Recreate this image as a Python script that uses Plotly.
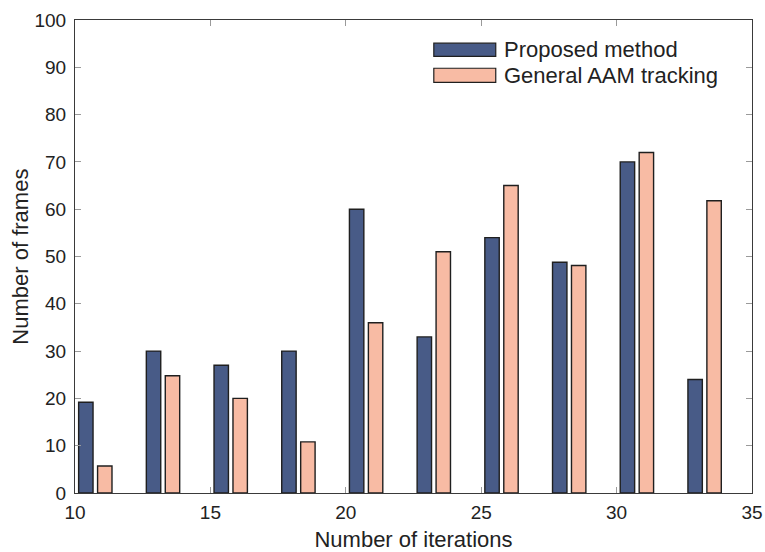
import plotly.graph_objects as go

# Group centres on the iteration axis
iterations = [10.75, 13.25, 15.75, 18.25, 20.75, 23.25, 25.75, 28.25, 30.75, 33.25]

# Number of frames per iteration bucket
proposed = [19.2, 30, 27, 30, 60, 33, 54, 48.8, 70, 24]
general_aam = [5.7, 24.8, 20, 10.8, 36, 51, 65, 48.1, 72, 61.8]

series_names = ["Proposed method", "General AAM tracking"]
series_colors = ["#485b87", "#f8bba4"]

x_ticks = [10, 15, 20, 25, 30, 35]
y_ticks = list(range(0, 101, 10))

FONT = "Liberation Sans, Arial, Helvetica, sans-serif"
EDGE = "#1f1f1f"
TEXT = "#222222"

fig = go.Figure()
for name, vals, col in zip(series_names, [proposed, general_aam], series_colors):
    fig.add_trace(go.Bar(
        x=iterations, y=vals, name=name,
        marker=dict(color=col, line=dict(color=EDGE, width=1.4)),
        showlegend=False,
    ))

axis_common = dict(
    showline=True, linecolor="#3a3a3a", linewidth=1.2, mirror="ticks",
    ticks="inside", ticklen=6, tickcolor="#9a9a9a", tickwidth=1,
    showgrid=False, zeroline=False, automargin=False,
    tickfont=dict(family=FONT, size=19, color=TEXT),
    title_font=dict(family=FONT, size=22, color=TEXT),
)

fig.update_layout(
    width=765, height=552,
    margin=dict(l=75, r=13, t=20, b=59),
    paper_bgcolor="white", plot_bgcolor="white",
    barmode="group", bargap=0.44, bargroupgap=0.24,
    xaxis=dict(range=[10, 35], tickvals=x_ticks, title=dict(text="Number of iterations"),
               ticklabelstandoff=2, **axis_common),
    yaxis=dict(range=[0, 100], tickvals=y_ticks, ticklabelstandoff=4, **axis_common),
)

# Vertical axis title
fig.add_annotation(xref="paper", yref="paper", x=-0.081, y=0.5, textangle=-90,
                   text="Number of frames", showarrow=False,
                   xanchor="center", yanchor="middle",
                   font=dict(family=FONT, size=22, color=TEXT))

# Legend drawn as wide swatches with labels
legend_rows = [(0.951, 0.923), (0.898, 0.868)]
for (y1, y0), name, col in zip(legend_rows, series_names, series_colors):
    fig.add_shape(type="rect", xref="paper", yref="paper",
                  x0=0.530, x1=0.6215, y0=y0, y1=y1,
                  fillcolor=col, line=dict(color=EDGE, width=1.2))
    fig.add_annotation(xref="paper", yref="paper", x=0.630, y=(y0 + y1) / 2,
                       text=name, showarrow=False, xanchor="left", yanchor="middle",
                       font=dict(family=FONT, size=22, color=TEXT))

fig.write_html("out.html")
